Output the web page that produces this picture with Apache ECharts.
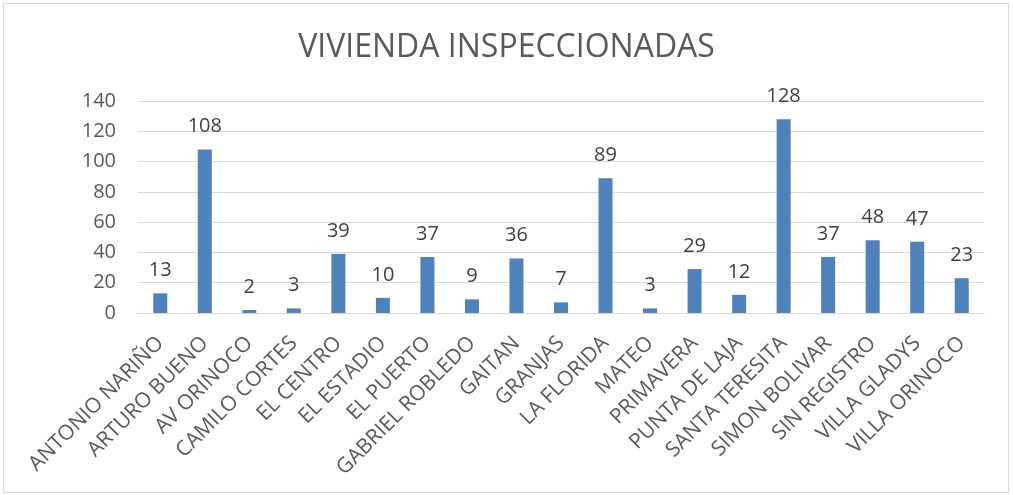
<!DOCTYPE html>
<html>
<head>
<meta charset="utf-8">
<script src="https://cdn.jsdelivr.net/npm/echarts@6/dist/echarts.min.js"></script>
<style>
  html, body { margin: 0; padding: 0; background: #fff; }
  #frame { position: absolute; left: 3px; top: 3px; width: 1006px; height: 490px; border: 1px solid #d9d9d9; box-sizing: border-box; }
  #chart { position: absolute; left: 0; top: 0; width: 1013px; height: 495px; }
</style>
</head>
<body>
<div id="frame"></div>
<div id="chart"></div>
<script>
// barrios
const barrios = ['ANTONIO NARIÑO', 'ARTURO BUENO', 'AV ORINOCO', 'CAMILO CORTES', 'EL CENTRO',
  'EL ESTADIO', 'EL PUERTO', 'GABRIEL ROBLEDO', 'GAITAN', 'GRANJAS', 'LA FLORIDA', 'MATEO',
  'PRIMAVERA', 'PUNTA DE LAJA', 'SANTA TERESITA', 'SIMON BOLIVAR', 'SIN REGISTRO',
  'VILLA GLADYS', 'VILLA ORINOCO'];
const viviendas = [13, 108, 2, 3, 39, 10, 37, 9, 36, 7, 89, 3, 29, 12, 128, 37, 48, 47, 23];
const yTicks = [0, 20, 40, 60, 80, 100, 120, 140];

const myBar = echarts.init(document.getElementById('chart'));
myBar.setOption({
  animation: false,
  title: {
    text: 'VIVIENDA INSPECCIONADAS',
    left: 'center',
    top: 27,
    textStyle: {
      fontFamily: 'Open Sans',
      fontWeight: 'normal',
      fontSize: 32,
      color: '#595959'
    }
  },
  grid: { left: 138, right: 29, top: 101, bottom: 182, containLabel: false },
  xAxis: {
    type: 'category',
    data: barrios,
    axisLine: { lineStyle: { color: '#d9d9d9', width: 1 } },
    axisTick: { show: false },
    axisLabel: {
      interval: 0,
      rotate: 45,
      margin: 27,
      fontFamily: 'Open Sans',
      fontSize: 21,
      color: '#595959'
    }
  },
  yAxis: {
    type: 'value',
    min: yTicks[0],
    max: yTicks[yTicks.length - 1],
    interval: 20,
    axisLine: { show: false },
    axisTick: { show: false },
    splitLine: { lineStyle: { color: '#d9d9d9', width: 1 } },
    axisLabel: {
      margin: 22,
      fontFamily: 'Open Sans',
      fontSize: 20,
      color: '#595959'
    }
  },
  series: [{
    type: 'bar',
    data: viviendas,
    barWidth: 14,
    itemStyle: { color: '#4f81bd' },
    label: {
      show: true,
      position: 'top',
      distance: 13,
      fontFamily: 'Open Sans',
      fontSize: 20,
      color: '#404040'
    }
  }]
});
</script>
</body>
</html>
